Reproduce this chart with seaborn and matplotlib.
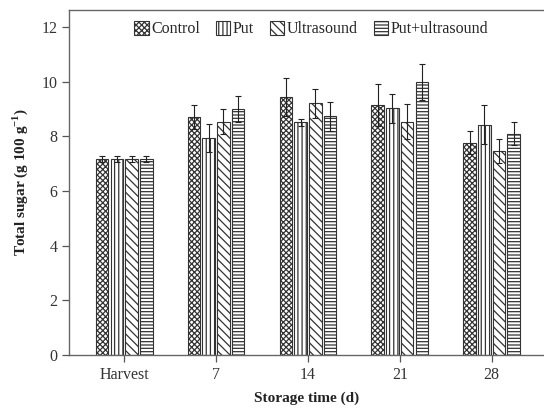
import numpy as np
import pandas as pd
import matplotlib
matplotlib.use("Agg")
import matplotlib.pyplot as plt
import seaborn as sns

times = ["Harvest", "7", "14", "21", "28"]
treatments = ["Control", "Put", "Ultrasound", "Put+ultrasound"]
control = [7.17, 8.72, 9.43, 9.14, 7.77]
put = [7.17, 7.93, 8.51, 9.03, 8.43]
ultrasound = [7.17, 8.54, 9.20, 8.54, 7.46]
put_us = [7.17, 9.00, 8.73, 9.98, 8.10]
control_err = [0.10, 0.44, 0.69, 0.78, 0.43]
put_err = [0.10, 0.51, 0.12, 0.53, 0.73]
ultrasound_err = [0.10, 0.46, 0.52, 0.65, 0.45]
put_us_err = [0.10, 0.46, 0.53, 0.66, 0.43]

values = [control, put, ultrasound, put_us]
errors = [control_err, put_err, ultrasound_err, put_us_err]
hatches = ["xxxxxx", "||||", "\\\\\\\\", "-----"]

rows = []
for t, vals in zip(treatments, values):
    for tm, v in zip(times, vals):
        rows.append({"time": tm, "sugar": v, "treatment": t})
df = pd.DataFrame(rows)

sns.set_style("ticks")
plt.rcParams["font.family"] = ["Liberation Serif", "DejaVu Serif"]
plt.rcParams["hatch.linewidth"] = 0.9

fig = plt.figure(figsize=(5.44, 4.08), dpi=100)
ax = fig.add_axes([0.127, 0.130, 0.873, 0.8455])

sns.barplot(data=df, x="time", y="sugar", hue="treatment", order=times,
            hue_order=treatments, width=0.64, errorbar=None, legend=False,
            color="white", saturation=1, ax=ax)

for cont, h, vals, errs in zip(ax.containers, hatches, values, errors):
    xs = []
    for p in cont.patches:
        w = p.get_width()
        p.set_x(p.get_x() + w * 0.07)
        p.set_width(w * 0.86)
        p.set_facecolor("white")
        p.set_edgecolor("#333333")
        p.set_linewidth(0.8)
        p.set_hatch(h)
        xs.append(p.get_x() + p.get_width() / 2)
    ax.errorbar(xs, vals, yerr=errs, fmt="none", ecolor="#222222",
                elinewidth=0.8, capsize=2, capthick=0.8, zorder=5)

ax.set_xlim(-0.6, 4.57)
ax.set_ylim(0, 12.62)
ax.set_yticks([0, 2, 4, 6, 8, 10, 12])
ax.set_xlabel("Storage time (d)", fontsize=11, fontweight="bold", labelpad=6)
ax.set_ylabel("Total sugar (g 100 g$^{\\mathregular{-1}}$)", fontsize=11,
              fontweight="bold", labelpad=8)
ax.tick_params(axis="both", labelsize=11.5, direction="out", length=5,
               width=0.9, color="#555555", labelcolor="#333333")
for s in ["left", "top", "bottom"]:
    ax.spines[s].set_color("#666666")
    ax.spines[s].set_linewidth(1.0)
ax.spines["right"].set_visible(False)
ax.xaxis.label.set_color("#222222")
ax.yaxis.label.set_color("#222222")

leg = ax.legend(ax.containers, treatments, loc="upper center",
                bbox_to_anchor=(0.51, 0.995), ncol=4, frameon=False,
                fontsize=11.5, handlelength=0.9, handleheight=0.9,
                handletextpad=0.15, columnspacing=1.0, borderaxespad=0.2)

fig.savefig("out.png", dpi=100)
